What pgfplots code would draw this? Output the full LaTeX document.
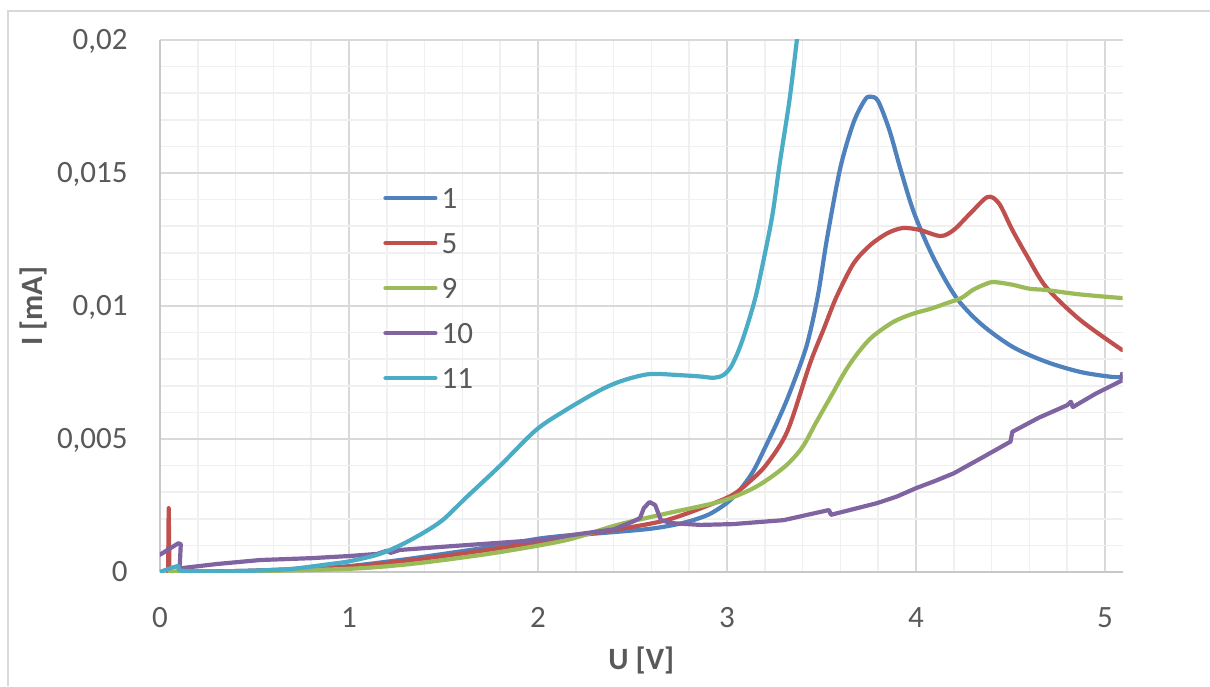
\documentclass[border=0pt]{standalone}
\usepackage{fontspec}
\setmainfont{Carlito}
\usepackage{pgfplots}
\pgfplotsset{compat=1.18}
\definecolor{cA}{HTML}{4F81BD}
\definecolor{cB}{HTML}{C0504D}
\definecolor{cC}{HTML}{9BBB59}
\definecolor{cD}{HTML}{8064A2}
\definecolor{cE}{HTML}{4BACC6}
\definecolor{tickc}{HTML}{595959}
\definecolor{majgrid}{HTML}{D9D9D9}
\definecolor{mingrid}{HTML}{F0F0F0}
\definecolor{axisgray}{HTML}{C8C8C8}
\begin{document}
\begin{tikzpicture}[x=1pt,y=1pt]
\useasboundingbox (0,0) rectangle (605,343);
\draw[majgrid, line width=0.75pt] (4,0) -- (4,337.5) -- (606,337.5);
\begin{axis}[
  at={(80pt,57pt)}, anchor=south west,
  scale only axis, width=481.35pt, height=266pt,
  xmin=0, xmax=5.094, ymin=0, ymax=0.02,
  axis x line*=bottom, axis y line*=left,
  axis line style={draw=axisgray, line width=0.85pt, -},
  xtick={0,1,2,3,4,5}, ytick={0,0.005,0.01,0.015,0.02},
  minor x tick num=4, minor y tick num=4,
  grid=both,
  major grid style={draw=majgrid, line width=0.85pt},
  minor grid style={draw=mingrid, line width=0.75pt},
  major tick length=0pt, minor tick length=0pt,
  scaled y ticks=false,
  /pgf/number format/assume math mode=true,
  /pgf/number format/use comma,
  /pgf/number format/fixed,
  /pgf/number format/precision=3,
  tick label style={font=\fontsize{15.5}{18}\selectfont, text=tickc},
  xticklabel style={anchor=north, inner sep=0pt, yshift=-17.5pt},
  yticklabel style={anchor=base east, inner sep=0pt, xshift=-16pt, yshift=-4.9pt},
  xlabel={U [V]}, ylabel={I [mA]},
  label style={font=\fontsize{15.5}{18}\selectfont\bfseries, text=tickc},
  xlabel style={at={(axis description cs:0.5,-0.1654)}, anchor=center},
  ylabel style={at={(axis description cs:-0.1319,0.5)}, anchor=center},
  legend style={draw=none, fill=none, at={(0.2316,0.7223)}, anchor=north west,
    inner sep=0pt, row sep=12.5pt, column sep=2pt,
    nodes={inner sep=0pt, text height=10pt, text depth=0pt,
      font=\fontsize{15.5}{18}\selectfont, text=tickc}},
  legend cell align=left,
  legend image code/.code={\draw[#1, line cap=round] (1pt,0pt) -- (26pt,0pt);},
  every axis plot/.append style={line width=2.1pt, line join=round, line cap=round, mark=none},
]
% Series 1
\addplot[cA, smooth, tension=0.5] coordinates {
(0.1,0) (0.3,0.00002) (0.5,0.00005) (0.8,0.00013) (1.0,0.00022) (1.27,0.00045)
(1.5,0.00068) (1.8,0.00100) (2.0,0.00125) (2.15,0.00137) (2.33,0.00146) (2.6,0.00163)
(2.77,0.00185) (2.9,0.00215) (3.0,0.0026) (3.07,0.0031) (3.14,0.0038) (3.21,0.0048) (3.27,0.0057)
(3.33,0.0067) (3.42,0.00847) (3.48,0.01035) (3.53,0.01256) (3.60,0.0152) (3.67,0.0169)
(3.73,0.01775) (3.76,0.01787) (3.8,0.0177) (3.86,0.0166) (3.92,0.0151) (3.99,0.0135)
(4.09,0.01185) (4.21,0.01035) (4.34,0.00935) (4.51,0.00847) (4.69,0.0079) (4.87,0.00752)
(5.03,0.00734) (5.09,0.00733)};
\addlegendentry{1}
% Series 5
\addplot[cB, smooth, tension=0.5] coordinates {
(0.05,0) (0.1,0.00001) (0.5,0.00005) (1.0,0.0002) (1.27,0.0004)
(1.5,0.0006) (1.8,0.0009) (2.15,0.0013) (2.42,0.0016) (2.68,0.00195) (2.9,0.0025)
(3.03,0.0029) (3.12,0.0034) (3.21,0.00405) (3.32,0.0053) (3.44,0.00785) (3.51,0.0091)
(3.58,0.01035) (3.67,0.0116) (3.76,0.0123) (3.85,0.01274) (3.93,0.01293) (4.02,0.01286)
(4.13,0.01263) (4.2,0.01286) (4.29,0.0135) (4.38,0.0141) (4.44,0.01385) (4.51,0.01286)
(4.59,0.01185) (4.69,0.0107) (4.87,0.00947) (5.09,0.00835)};
\addlegendentry{5}
\addplot[cB, forget plot] coordinates {(0.043,0) (0.046,0.0024) (0.05,0)};
% Series 9
\addplot[cC, smooth, tension=0.5] coordinates {
(0.05,0) (0.5,0.00003) (1.0,0.00012) (1.27,0.00026) (1.5,0.00045) (1.8,0.00075)
(2.15,0.0012) (2.42,0.00177) (2.68,0.0022) (2.96,0.00264) (3.12,0.00308) (3.22,0.0035)
(3.32,0.00405) (3.4,0.0047) (3.47,0.0056) (3.55,0.0066) (3.63,0.0076) (3.7,0.0083)
(3.77,0.00885) (3.88,0.0094) (3.98,0.0097) (4.08,0.0099) (4.16,0.0101) (4.24,0.0103)
(4.3,0.0106) (4.36,0.0108) (4.41,0.0109) (4.51,0.0108) (4.6,0.01065) (4.69,0.0106)
(4.85,0.01045) (5.0,0.01035) (5.09,0.0103)};
\addlegendentry{9}
% Series 10
\addplot[cD] coordinates {
(0,0.00065) (0.097,0.00108) (0.11,0.00105) (0.105,0.0003) (0.1,0.00015) (0.12,0.00015)
(0.3,0.0003) (0.53,0.00045) (0.8,0.00052) (1.0,0.0006) (1.15,0.00068) (1.2,0.0008)
(1.22,0.00072) (1.27,0.00083) (1.5,0.00095) (1.8,0.0011) (2.0,0.0012) (2.24,0.00145)
(2.4,0.0016) (2.5,0.00189) (2.54,0.00203) (2.56,0.0024) (2.59,0.00263) (2.62,0.00252)
(2.65,0.00196) (2.7,0.00184) (2.86,0.00177) (3.03,0.0018) (3.3,0.00195) (3.54,0.00233)
(3.55,0.00215) (3.65,0.00233) (3.79,0.00258) (3.9,0.00284) (4.0,0.00315) (4.1,0.00342)
(4.2,0.00371) (4.35,0.0043) (4.5,0.0049) (4.51,0.00527) (4.65,0.0058) (4.8,0.00627)
(4.82,0.0064) (4.83,0.0062) (4.95,0.0067) (5.09,0.0072) (5.09,0.00745)};
\addlegendentry{10}
% Series 11
\addplot[cE, smooth, tension=0.5] coordinates {
(0,0) (0.095,0.00022) (0.11,0.00005) (0.3,0.00002) (0.5,0.00005) (0.7,0.00012)
(0.9,0.0003) (1.0,0.0004) (1.15,0.00065) (1.27,0.001) (1.4,0.0015) (1.5,0.00198)
(1.62,0.0028) (1.8,0.004) (1.99,0.00534) (2.15,0.0061) (2.33,0.00684) (2.45,0.0072)
(2.59,0.00744) (2.75,0.0074) (2.86,0.00735) (2.93,0.0073) (2.98,0.0074) (3.02,0.0077)
(3.06,0.0083) (3.1,0.0091) (3.15,0.0103) (3.19,0.0116) (3.24,0.0134) (3.28,0.0154)
(3.33,0.0177) (3.37,0.02) (3.42,0.023)};
\addlegendentry{11}
\end{axis}
\end{tikzpicture}
\end{document}
